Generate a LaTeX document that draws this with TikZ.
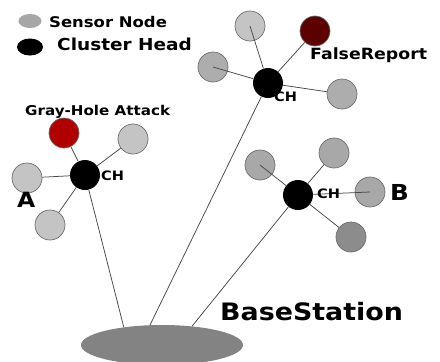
\documentclass[tikz,border=0pt]{standalone}
\usepackage{fontspec}
\setmainfont{DejaVu Sans}[FakeStretch=1.12]
\usetikzlibrary{shapes.geometric}

\definecolor{keygray}{HTML}{A6A6A6}
\definecolor{palegray}{HTML}{C4C4C4}
\definecolor{sensorgray}{HTML}{ADADAD}
\definecolor{midgray}{HTML}{A8A8A8}
\definecolor{deepgray}{HTML}{8C8C8C}
\definecolor{edgegray}{HTML}{6E6E6E}
\definecolor{basegray}{HTML}{838383}
\definecolor{falsered}{HTML}{5C0000}
\definecolor{holered}{HTML}{B00000}

\newcommand{\fsz}[1]{\fontsize{#1}{#1}\selectfont\bfseries}

\begin{document}
\begin{tikzpicture}[x=1pt, y=-1pt,
    sensor/.style={circle, draw=edgegray, line width=0.7pt, fill=#1, minimum size=30pt, inner sep=0pt},
    sensor/.default=sensorgray,
    head/.style={circle, fill=black, minimum size=30pt, inner sep=0pt},
    link/.style={draw=black!72, line width=0.75pt},
    lbl/.style={anchor=base west, inner sep=0pt, font=\fsz{#1}}]
    \useasboundingbox (0,0) rectangle (440,362);

    % legend
    \node[ellipse, fill=keygray, minimum width=23pt, minimum height=14pt, inner sep=0pt] (keysensor) at (30,21) {};
    \node[ellipse, fill=black, minimum width=26pt, minimum height=17pt, inner sep=0pt] (keyhead) at (30,47) {};
    \node[lbl=14.7] (keysensortext) at (49,27) {Sensor Node};
    \node[lbl=16.5] (keyheadtext) at (57,50) {Cluster Head};

    % base station
    \node[ellipse, fill=basegray, minimum width=162pt, minimum height=40pt, inner sep=0pt] (base) at (162,345) {};
    \node[lbl=24] (basetext) at (220,320) {BaseStation};

    % upper cluster
    \node[head] (chT) at (268,83) {};
    \foreach \n/\x/\y/\c in {t1/250/26/palegray, t2/315/31/falsered, t3/213/67/sensorgray, t4/342/94/sensorgray}
        \node[sensor=\c] (\n) at (\x,\y) {};
    \foreach \n in {t1,t3}
        \draw[link] (chT) -- (\n.center);
    \foreach \n in {t2,t4}
        \draw[link] (chT) -- (\n);
    \node[lbl=13] (chTtext) at (274,101) {CH};
    \node[lbl=15.5] (falsetext) at (310,59) {FalseReport};

    % cluster A
    \node[head] (chA) at (85,175) {};
    \foreach \n/\x/\y/\c in {a1/64/133/holered, a2/133/139/palegray, a3/27/178/palegray, a4/50/225/palegray}
        \node[sensor=\c] (\n) at (\x,\y) {};
    \foreach \n in {a1,a2,a3,a4}
        \draw[link] (chA) -- (\n);
    \node[lbl=13] (chAtext) at (101,180) {CH};
    \node[lbl=21] (atext) at (17,207) {A};
    \node[lbl=13.5] (holetext) at (25,115) {Gray-Hole Attack};

    % cluster B
    \node[head] (chB) at (298,195) {};
    \foreach \n/\x/\y/\c in {b1/260/165/midgray, b2/334/153/midgray, b3/370/192/midgray, b4/351/237/deepgray}
        \node[sensor=\c] (\n) at (\x,\y) {};
    \draw[link] (chB) -- (b1.center);
    \draw[link] (chB) -- (b3.center);
    \foreach \n in {b2,b4}
        \draw[link] (chB) -- (\n);
    \node[lbl=13] (chBtext) at (317,198) {CH};
    \node[lbl=22] (btext) at (390,200) {B};

    % links to the base station
    \draw[link] (chA) -- (base.155);
    \draw[link] (chT) -- (base.121);
    \draw[link] (chB) -- (base.32);
\end{tikzpicture}
\end{document}
